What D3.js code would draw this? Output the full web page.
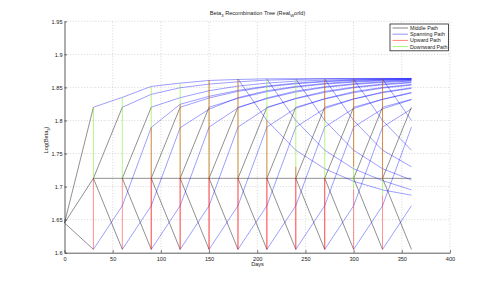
<!DOCTYPE html>
<html><head><meta charset="utf-8">
<script src="https://cdn.jsdelivr.net/npm/d3@7"></script>
<style>
html,body{margin:0;padding:0;background:#fff;}
svg{display:block;font-family:"Liberation Sans",Arial,sans-serif;}
</style></head>
<body>
<svg id="chart" width="498" height="285"></svg>
<script>
// ---------- data ----------
const xTicks = [0, 50, 100, 150, 200, 250, 300, 350, 400];
const xTickLabels = ["0","50","100","150","200","250","300","350","400"];
const yTicks = [1.6, 1.65, 1.7, 1.75, 1.8, 1.85, 1.9, 1.95];
const yTickLabels = ["1.6","1.65","1.7","1.75","1.8","1.85","1.9","1.95"];

const stepTimes = [30, 60, 90, 120, 150, 180, 210, 240, 270, 300, 330, 360];
const rootValue = 1.645;
const upValue = 1.82;
const midValue = 1.7125;
const downValue = 1.605;

// spanning paths: start time, values every 30 days
const upSpanStarts = [30, 60, 90, 120, 150, 180, 210, 240, 270, 300, 330];
const upSpanValues = [
  [1.82, 1.835, 1.8515, 1.8565, 1.8605, 1.862, 1.863, 1.8632, 1.8634, 1.8635, 1.8636, 1.8636],
  [1.82, 1.8395, 1.8495, 1.855, 1.8585, 1.861, 1.862, 1.8628, 1.8632, 1.8634, 1.8635],
  [1.82, 1.8345, 1.845, 1.852, 1.8565, 1.8595, 1.861, 1.862, 1.8625, 1.863],
  [1.82, 1.834, 1.844, 1.851, 1.8555, 1.8585, 1.8605, 1.8615, 1.862],
  [1.82, 1.8335, 1.8435, 1.8505, 1.855, 1.858, 1.86, 1.861],
  [1.82, 1.833, 1.843, 1.85, 1.8545, 1.8575, 1.8595],
  [1.82, 1.833, 1.8425, 1.8495, 1.854, 1.857],
  [1.82, 1.8325, 1.842, 1.849, 1.8535],
  [1.82, 1.8325, 1.842, 1.8485],
  [1.82, 1.832, 1.8415],
  [1.82, 1.832]
];
const downSpanStarts = [30, 60, 90, 120, 150, 180, 210, 240, 270, 300, 330];
const downSpanValues = [
  [1.605, 1.671, 1.7895, 1.8245, 1.8365, 1.8455, 1.852, 1.8565, 1.8595, 1.8612, 1.8622, 1.8628],
  [1.605, 1.671, 1.789, 1.817, 1.8345, 1.845, 1.8515, 1.856, 1.859, 1.861, 1.862],
  [1.605, 1.671, 1.79, 1.819, 1.834, 1.8445, 1.851, 1.8555, 1.8585, 1.8605],
  [1.605, 1.671, 1.79, 1.819, 1.8335, 1.844, 1.8505, 1.855, 1.858],
  [1.605, 1.671, 1.79, 1.8185, 1.833, 1.8435, 1.85, 1.8545],
  [1.605, 1.671, 1.79, 1.818, 1.8325, 1.843, 1.8495],
  [1.605, 1.671, 1.79, 1.818, 1.832, 1.8425],
  [1.605, 1.671, 1.79, 1.8175, 1.8315],
  [1.605, 1.671, 1.79, 1.8175],
  [1.605, 1.671, 1.79],
  [1.605, 1.671]
];
const topSpanStarts = [180, 210, 240, 270, 300, 330];
const topSpanValues = [
  [1.8626, 1.80, 1.755, 1.727, 1.708, 1.695, 1.687],
  [1.8626, 1.80, 1.755, 1.727, 1.709, 1.695],
  [1.8626, 1.80, 1.755, 1.727, 1.71],
  [1.8626, 1.80, 1.755, 1.73],
  [1.8626, 1.80, 1.755],
  [1.8626, 1.80]
];

// vertical recombination segments: [time, low, high]
const upwardSegments = [
  [30, 1.605, 1.7125], [60, 1.605, 1.7125],
  [90, 1.605, 1.7125], [90, 1.605, 1.7895],
  [120, 1.605, 1.7125], [120, 1.605, 1.8245],
  [150, 1.605, 1.7125], [150, 1.605, 1.861],
  [180, 1.605, 1.7125], [180, 1.605, 1.8626],
  [210, 1.605, 1.7125], [210, 1.605, 1.80],
  [240, 1.605, 1.7125], [240, 1.605, 1.73],
  [270, 1.605, 1.7125], [270, 1.605, 1.7125], [270, 1.80, 1.8626],
  [300, 1.605, 1.6955], [300, 1.73, 1.8626],
  [330, 1.605, 1.687], [330, 1.71, 1.8626]
];
const downwardSegments = [
  [30, 1.7125, 1.82], [60, 1.7125, 1.835],
  [90, 1.7125, 1.8515], [120, 1.7125, 1.8565],
  [150, 1.7125, 1.861], [180, 1.7125, 1.8626],
  [210, 1.7125, 1.8626], [240, 1.7125, 1.8626],
  [270, 1.7125, 1.8626], [300, 1.6955, 1.8626],
  [330, 1.687, 1.8626]
];

const legendLabels = ["Middle Path", "Spanning Path", "Upward Path", "Downward Path"];

// ---------- drawing ----------
const svg = d3.select("#chart");
const x = d3.scaleLinear().domain([0, 400]).range([64.5, 450]);
const y = d3.scaleLinear().domain([1.6, 1.95]).range([252.7, 21.3]);
const FS = 5.6;

const colMiddle = "rgba(0,0,0,0.55)";
const colSpan = "rgba(0,0,255,0.48)";
const colUp = "rgba(255,0,0,0.55)";
const colDown = "rgba(110,230,0,0.6)";

// grid
const grid = svg.append("g");
grid.selectAll("line.gx").data(xTicks.slice(1)).join("line")
  .attr("x1", d => x(d)).attr("x2", d => x(d))
  .attr("y1", y(1.6)).attr("y2", y(1.95))
  .attr("stroke", "#c4c4c4").attr("stroke-width", 0.7).attr("stroke-dasharray", "1,1.8");
grid.selectAll("line.gy").data(yTicks.slice(1)).join("line")
  .attr("y1", d => y(d)).attr("y2", d => y(d))
  .attr("x1", x(0)).attr("x2", x(400))
  .attr("stroke", "#c4c4c4").attr("stroke-width", 0.7).attr("stroke-dasharray", "1,1.8");

const marks = svg.append("g").attr("fill", "none").attr("stroke-width", 0.8);
const line = d3.line().x(d => x(d[0])).y(d => y(d[1]));

// middle path (black)
const middleSegs = [];
[upValue, midValue, downValue].forEach(v => middleSegs.push([[0, rootValue], [stepTimes[0], v]]));
for (let i = 0; i < stepTimes.length - 1; i++) {
  const t0 = stepTimes[i], t1 = stepTimes[i + 1];
  middleSegs.push([[t0, midValue], [t1, upValue]]);
  middleSegs.push([[t0, midValue], [t1, downValue]]);
}
middleSegs.push([[stepTimes[0], midValue], [stepTimes[stepTimes.length - 1], midValue]]);
marks.selectAll("path.mid").data(middleSegs).join("path")
  .attr("d", line).attr("stroke", colMiddle);

// spanning paths (blue)
function toPath(start, vals) { return vals.map((v, i) => [start + 30 * i, v]); }
const spanPaths = [];
upSpanStarts.forEach((s, i) => spanPaths.push(toPath(s, upSpanValues[i])));
downSpanStarts.forEach((s, i) => spanPaths.push(toPath(s, downSpanValues[i])));
topSpanStarts.forEach((s, i) => spanPaths.push(toPath(s, topSpanValues[i])));
marks.selectAll("path.span").data(spanPaths).join("path")
  .attr("d", line).attr("stroke", colSpan);

// downward (green) then upward (red)
marks.selectAll("line.down").data(downwardSegments).join("line")
  .attr("x1", d => x(d[0])).attr("x2", d => x(d[0]))
  .attr("y1", d => y(d[1])).attr("y2", d => y(d[2]))
  .attr("stroke", colDown);
marks.selectAll("line.up").data(upwardSegments).join("line")
  .attr("x1", d => x(d[0])).attr("x2", d => x(d[0]))
  .attr("y1", d => y(d[1])).attr("y2", d => y(d[2]))
  .attr("stroke", colUp);

// axes
const ax = svg.append("g").attr("transform", `translate(0,${y(1.6)})`)
  .call(d3.axisBottom(x).tickValues(xTicks).tickFormat((d, i) => xTickLabels[i])
    .tickSizeInner(-2.5).tickSizeOuter(0).tickPadding(4));
const ay = svg.append("g").attr("transform", `translate(${x(0)},0)`)
  .call(d3.axisLeft(y).tickValues(yTicks).tickFormat((d, i) => yTickLabels[i])
    .tickSizeInner(-2.5).tickSizeOuter(0).tickPadding(2));
[ax, ay].forEach(a => {
  a.select(".domain").attr("stroke", "#333").attr("stroke-width", 0.8);
  a.selectAll(".tick line").attr("stroke", "#333").attr("stroke-width", 0.7);
  a.selectAll("text").attr("font-size", FS).attr("fill", "#222")
    .attr("font-family", "'Liberation Sans',Arial,sans-serif");
});

// title
const title = svg.append("text").attr("x", 257.5).attr("y", 15)
  .attr("text-anchor", "middle").attr("font-size", FS).attr("fill", "#222");
title.append("tspan").text("Beta");
title.append("tspan").text("3").attr("font-size", FS * 0.75).attr("dy", 1.6);
title.append("tspan").text(" Recombination Tree (Real").attr("dy", -1.6);
title.append("tspan").text("W").attr("font-size", FS * 0.75).attr("dy", 1.6);
title.append("tspan").text("orld)").attr("dy", -1.6);

// x label
svg.append("text").attr("x", 257.5).attr("y", 265.5).attr("text-anchor", "middle")
  .attr("font-size", FS).attr("fill", "#222").text("Days");

// y label
const yl = svg.append("text").attr("transform", "translate(48,140) rotate(-90)")
  .attr("text-anchor", "middle").attr("font-size", FS).attr("fill", "#222");
yl.append("tspan").text("Log(Beta");
yl.append("tspan").text("3").attr("font-size", FS * 0.75).attr("dy", 1.6);
yl.append("tspan").text(")").attr("dy", -1.6);

// legend
const legendColors = [colMiddle, colSpan, colUp, colDown];
const lg = svg.append("g");
lg.append("rect").attr("x", 390).attr("y", 24).attr("width", 58.5).attr("height", 26.8)
  .attr("fill", "#fff").attr("stroke", "#222").attr("stroke-width", 0.8);
const items = lg.selectAll("g.item").data(legendLabels).join("g")
  .attr("transform", (d, i) => `translate(0,${28 + i * 6.2})`);
items.append("line").attr("x1", 392.5).attr("x2", 408).attr("y1", 0).attr("y2", 0)
  .attr("stroke", (d, i) => legendColors[i]).attr("stroke-width", 0.9);
items.append("text").attr("x", 410).attr("y", 1.9).attr("font-size", FS * 0.95)
  .attr("fill", "#222").text(d => d);
</script>
</body></html>
